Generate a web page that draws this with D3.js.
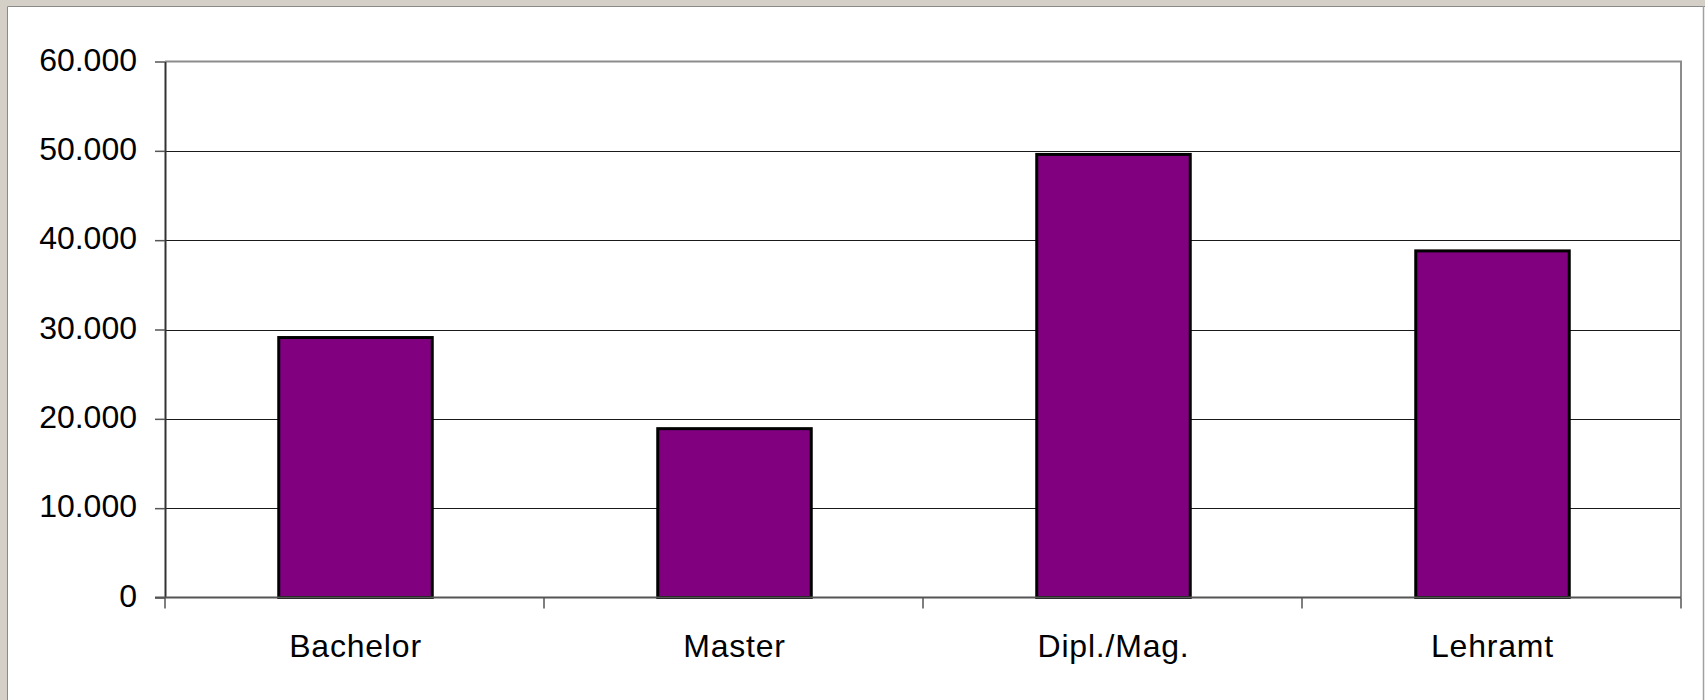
<html>

<head>
    <style>
        html,
        body {
            margin: 0;
            background-color: #d4d0c8;
            overflow: hidden;
        }

        svg {
            display: block;
            font-family: "Liberation Sans", Arial, sans-serif;
        }

        .yAxis text,
        .xLabel {
            font-size: 32px;
            fill: #000000;
        }

        .xLabel {
            letter-spacing: 0.8px;
        }

        .bar {
            fill: #800080;
            stroke: #000000;
            stroke-width: 3;
        }
    </style>
</head>

<body>
    <div id="chart"></div>
</body>

</html>

<script src="https://d3js.org/d3.v7.min.js"></script>

<script>
    // data
    var categories = ["Bachelor", "Master", "Dipl./Mag.", "Lehramt"];
    var values = [29100, 18900, 49600, 38800];
    var yTicks = [0, 10000, 20000, 30000, 40000, 50000, 60000];

    // establishing variables
    var W = 1705,
        H = 700,
        plotLeft = 165,
        plotRight = 1681,
        plotTop = 61.5,
        plotBottom = 597.5;

    // german number format: 10.000
    var de = d3.formatLocale({ decimal: ",", thousands: ".", grouping: [3], currency: ["", " €"] });
    var fmt = de.format(",d");

    var svg = d3.select("#chart").append("svg")
        .attr("width", W)
        .attr("height", H);

    // window frame
    svg.append("rect")
        .attr("x", 7)
        .attr("y", 6)
        .attr("width", W - 7)
        .attr("height", H - 6)
        .attr("fill", "#ffffff");
    svg.append("path")
        .attr("d", "M7.5," + H + "V6.5H" + W)
        .attr("fill", "none")
        .attr("stroke", "#8a8a8a")
        .attr("stroke-width", 1);
    svg.append("line")
        .attr("x1", W - 1.5).attr("x2", W - 1.5)
        .attr("y1", 6).attr("y2", H)
        .attr("stroke", "#a0a0a0")
        .attr("stroke-width", 1.5);

    // scaling
    var xscale = d3.scaleBand()
        .domain(categories)
        .range([plotLeft, plotRight])
        .padding(0);

    var yscale = d3.scaleLinear()
        .domain([0, 60000])
        .range([plotBottom, plotTop]);

    // gridlines
    svg.append("g")
        .selectAll("line")
        .data(yTicks.filter(function (d) { return d > 0 && d < 60000; }))
        .enter().append("line")
        .attr("x1", plotLeft)
        .attr("x2", plotRight)
        .attr("y1", function (d) { return Math.round(yscale(d)) + 0.5; })
        .attr("y2", function (d) { return Math.round(yscale(d)) + 0.5; })
        .attr("stroke", "#1a1a1a")
        .attr("stroke-width", 1);

    // plot border (top and right)
    svg.append("path")
        .attr("d", "M" + plotLeft + "," + yscale(60000) + "H" + plotRight + "V" + plotBottom)
        .attr("fill", "none")
        .attr("stroke", "#8c8c8c")
        .attr("stroke-width", 2);

    // Add Bars
    var barW = xscale.bandwidth() * 0.405;
    svg.selectAll(".bar")
        .data(values)
        .enter().append("rect")
        .attr("class", "bar")
        .attr("x", function (d, i) { return xscale(categories[i]) + xscale.bandwidth() / 2 - barW / 2 + 1; })
        .attr("y", function (d) { return yscale(d); })
        .attr("width", barW)
        .attr("height", function (d) { return yscale(0) - yscale(d); });

    // Add Y axis
    var y_axis = d3.axisLeft()
        .scale(yscale)
        .tickValues(yTicks)
        .tickSize(10)
        .tickSizeOuter(0)
        .tickPadding(18)
        .tickFormat(fmt);
    var gy = svg.append("g")
        .attr("class", "yAxis")
        .attr("transform", "translate(" + plotLeft + ",0)")
        .call(y_axis);
    gy.select(".domain")
        .attr("stroke", "#333333")
        .attr("stroke-width", 2);
    gy.selectAll(".tick line")
        .attr("stroke", "#555555")
        .attr("stroke-width", 1.5);
    gy.selectAll(".tick text")
        .attr("font-family", null)
        .attr("font-size", null)
        .attr("dy", "0.27em");

    // Add X axis line
    svg.append("line")
        .attr("x1", plotLeft - 10)
        .attr("x2", plotRight)
        .attr("y1", yscale(0))
        .attr("y2", yscale(0))
        .attr("stroke", "#555555")
        .attr("stroke-width", 2);

    // X axis ticks at category boundaries
    var bounds = categories.map(function (c) { return xscale(c); }).concat([plotRight]);
    svg.append("g")
        .selectAll("line")
        .data(bounds)
        .enter().append("line")
        .attr("x1", function (d) { return d; })
        .attr("x2", function (d) { return d; })
        .attr("y1", yscale(0))
        .attr("y2", yscale(0) + 11)
        .attr("stroke", "#555555")
        .attr("stroke-width", 1.5);

    // X labels
    svg.append("g")
        .selectAll("text")
        .data(categories)
        .enter().append("text")
        .attr("class", "xLabel")
        .attr("text-anchor", "middle")
        .attr("x", function (d) { return xscale(d) + xscale.bandwidth() / 2 + 1; })
        .attr("y", yscale(0) + 59)
        .text(function (d) { return d; });
</script>
